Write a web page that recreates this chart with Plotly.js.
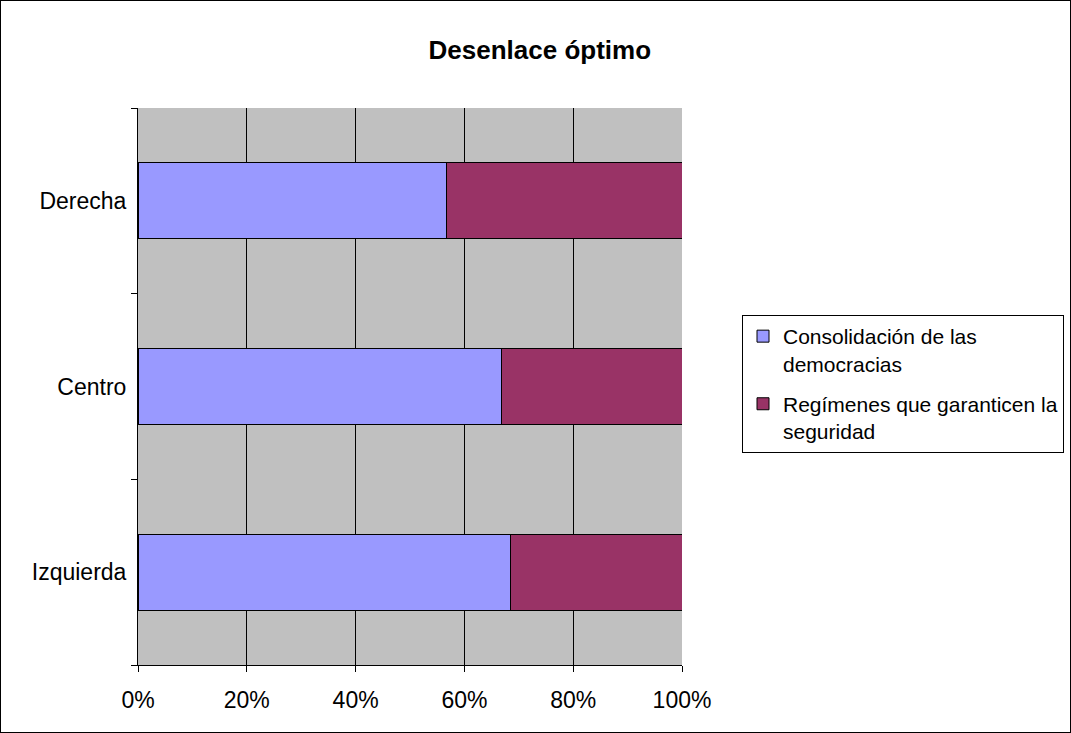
<!DOCTYPE html>
<html>
<head>
<meta charset="utf-8">
<script src="https://cdn.plot.ly/plotly-3.0.1.min.js"></script>
<style>
  html, body { margin: 0; padding: 0; background: #fff; }
  #wrap { position: relative; width: 1071px; height: 733px; }
  #chart { width: 1071px; height: 733px; }
  #frame { position: absolute; left: 0; top: 0; width: 1071px; height: 733px; box-sizing: border-box; border: 1px solid #000; pointer-events: none; }
</style>
</head>
<body>
<div id="wrap">
  <div id="chart"></div>
  <div id="frame"></div>
</div>
<script>
const categories = ['Izquierda', 'Centro', 'Derecha'];
const seriesNames = ['Consolidación de las<br>democracias', 'Regímenes que garanticen la<br>seguridad'];
const consolidacion = [0.684, 0.668, 0.567];
const regimenes = [0.316, 0.332, 0.433];
const xTickVals = [0, 0.2, 0.4, 0.6, 0.8, 1.0];
const xTickText = ['0%', '20%', '40%', '60%', '80%', '100%'];
const chartTitle = 'Desenlace óptimo';

const FONT = 'Liberation Sans, Arial, sans-serif';

const traces = [
  {
    type: 'bar', orientation: 'h', name: seriesNames[0], legendgroup: 'g1',
    y: categories, x: consolidacion,
    marker: { color: '#9999FF', line: { color: '#000000', width: 1 } },
    hoverinfo: 'skip'
  },
  {
    type: 'bar', orientation: 'h', name: seriesNames[1], legendgroup: 'g2',
    y: categories, x: regimenes,
    marker: { color: '#993366', line: { color: '#000000', width: 1 } },
    hoverinfo: 'skip'
  }
];

const layout = {
  width: 1071, height: 733,
  paper_bgcolor: '#ffffff',
  plot_bgcolor: '#C0C0C0',
  margin: { l: 138, r: 389, t: 108, b: 68, pad: 0 },
  barmode: 'stack',
  bargap: 0.59,
  font: { family: FONT, color: '#000', size: 20 },
  title: {
    text: '<b>' + chartTitle + '</b>',
    font: { family: FONT, size: 26, color: '#000' },
    xref: 'container', yref: 'container',
    x: 0.504, y: 1 - 50 / 733, xanchor: 'center', yanchor: 'middle'
  },
  xaxis: {
    range: [0, 1],
    tickvals: xTickVals, ticktext: xTickText,
    showgrid: true, gridcolor: '#000', gridwidth: 1,
    zeroline: false,
    showline: true, linecolor: '#000', linewidth: 1,
    ticks: 'outside', ticklen: 6, tickcolor: '#000',
    ticklabelstandoff: 8,
    tickfont: { family: FONT, size: 23, color: '#000' },
    fixedrange: true
  },
  yaxis: {
    type: 'category',
    categoryorder: 'array', categoryarray: categories,
    showgrid: false, zeroline: false,
    showline: true, linecolor: '#000', linewidth: 1,
    ticks: 'outside', ticklen: 6, tickcolor: '#000',
    tickson: 'boundaries',
    ticklabelstandoff: 6,
    tickfont: { family: FONT, size: 23, color: '#000' },
    fixedrange: true
  },
  showlegend: true,
  legend: {
    x: 742 / 1071, xref: 'container', y: 1 - 315 / 733, yref: 'container',
    xanchor: 'left', yanchor: 'top',
    bgcolor: '#ffffff', bordercolor: '#000', borderwidth: 1,
    font: { family: FONT, size: 21, color: '#000' },
    traceorder: 'grouped', valign: 'top',
    itemwidth: 30, tracegroupgap: 10
  }
};

Plotly.newPlot('chart', traces, layout, { displayModeBar: false, staticPlot: true });
</script>
</body>
</html>
